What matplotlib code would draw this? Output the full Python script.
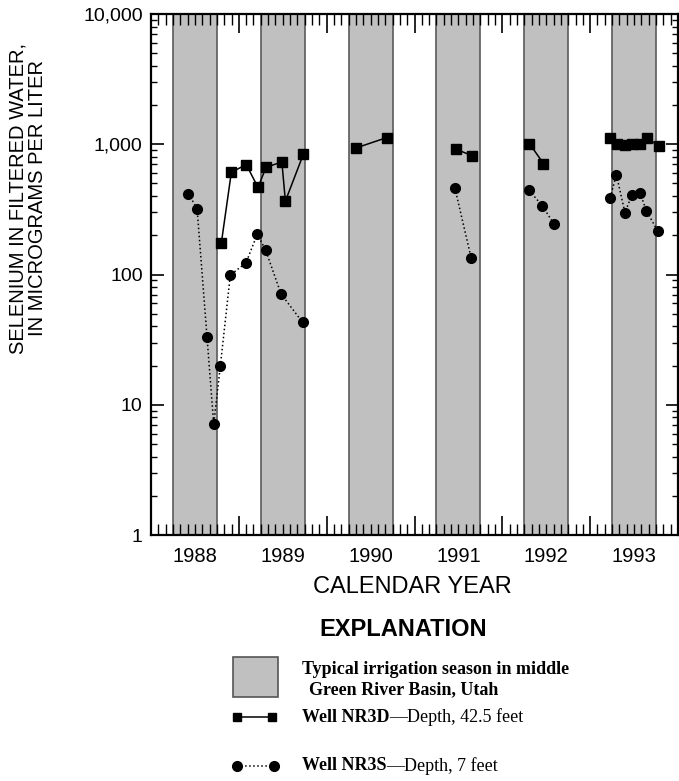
import numpy as np
import matplotlib
matplotlib.use('Agg')
import matplotlib.pyplot as plt
from matplotlib.patches import Rectangle
from matplotlib.lines import Line2D

plt.rcParams['font.family'] = ['Liberation Sans', 'DejaVu Sans']

# DATA ######################################
years = [1988, 1989, 1990, 1991, 1992, 1993]
year_labels = ['1988', '1989', '1990', '1991', '1992', '1993']

# typical irrigation season (decimal years, April 1 - October 1)
season_start = [1988.25, 1989.25, 1990.25, 1991.25, 1992.25, 1993.25]
season_end = [1988.75, 1989.75, 1990.75, 1991.75, 1992.75, 1993.75]

# Well NR3D, one list per connected sampling run
nr3d_time = [[1988.80, 1988.915, 1989.085, 1989.218, 1989.31, 1989.49, 1989.53, 1989.736],
             [1990.335, 1990.684],
             [1991.472, 1991.653],
             [1992.309, 1992.468],
             [1993.229, 1993.305, 1993.40, 1993.475, 1993.5625, 1993.645, 1993.778]]
nr3d_se = [[173, 610, 698, 466, 666, 731, 366, 843],
           [937, 1125],
           [916, 819],
           [1012, 711],
           [1125, 1000, 982, 1012, 1012, 1125, 970]]

# Well NR3S
nr3s_time = [[1988.426, 1988.525, 1988.638, 1988.714, 1988.79, 1988.903, 1989.082,
              1989.21, 1989.305, 1989.48, 1989.725],
             [1991.46, 1991.646],
             [1992.305, 1992.457, 1992.585],
             [1993.229, 1993.298, 1993.396, 1993.475, 1993.57, 1993.639, 1993.77]]
nr3s_se = [[418, 319, 33, 7.1, 20, 99, 123, 204, 154, 71, 43],
           [462, 133],
           [442, 336, 245],
           [390, 585, 299, 408, 419, 310, 215]]

W, H = 679, 781
fig = plt.figure(figsize=(W/100, H/100), dpi=100)
ax = fig.add_axes([151/W, 1-535/H, (678-151)/W, (535-14)/H])

# irrigation seasons
for s, e in zip(season_start, season_end):
    ax.axvspan(s, e, facecolor='#c0c0c0', edgecolor='#5a5a5a', lw=1.2, zorder=0)

for t, v in zip(nr3d_time, nr3d_se):
    ax.plot(t, v, '-', color='k', lw=1.1, marker='s', ms=6.5, mfc='k', mec='k', zorder=3)
for t, v in zip(nr3s_time, nr3s_se):
    ax.plot(t, v, ':', color='k', lw=1.1, marker='o', ms=7, mfc='k', mec='k', zorder=3)

ax.set_yscale('log')
ax.set_xlim(years[0], years[-1] + 1)
ax.set_ylim(1, 10000)

# x ticks: long at year boundaries, short at months, labels at mid-year
ax.set_xticks(years + [years[-1] + 1], labels=[''] * (len(years) + 1))
month_pos = []
month_lab = []
for i in range(1, 12 * len(years)):
    if i % 12 == 0:
        continue
    month_pos.append(years[0] + i / 12)
    month_lab.append(year_labels[i // 12] if i % 12 == 6 else '')
ax.set_xticks(month_pos, labels=month_lab, minor=True)
ax.tick_params(axis='x', which='major', direction='in', length=14, width=1.2, top=True)
ax.tick_params(axis='x', which='minor', direction='in', length=8, width=1.0, top=True,
               labelsize=14.5, pad=9)

ax.set_yticks([1, 10, 100, 1000, 10000], labels=['1', '10', '100', '1,000', '10,000'])
ax.set_yticks([m * 10**d for d in range(4) for m in range(2, 10)], minor=True)
ax.yaxis.set_minor_formatter(matplotlib.ticker.NullFormatter())
ax.tick_params(axis='y', which='major', direction='in', length=9, width=1.2, right=True,
               labelsize=14, pad=6)
ax.tick_params(axis='y', which='minor', direction='in', length=4.5, width=1.0, right=True)
for sp in ax.spines.values():
    sp.set_linewidth(1.6)

fig.text(412/W, 1-587/H, 'CALENDAR YEAR', fontsize=17, ha='center', va='center')
fig.text(28/W, 1-198/H, 'SELENIUM IN FILTERED WATER,\nIN MICROGRAMS PER LITER',
         fontsize=14.5, rotation=90, ha='center', va='center', multialignment='center',
         linespacing=1.05)

# EXPLANATION ###############################
lax = fig.add_axes([0, 0, 1, 1])
lax.set_xlim(0, W)
lax.set_ylim(H, 0)
lax.axis('off')

lax.text(403, 630, 'EXPLANATION', fontsize=17, fontweight='bold', ha='center', va='center')
lax.add_patch(Rectangle((233, 657), 45, 40, facecolor='#c0c0c0', edgecolor='#555555', lw=1.2))
serif = ['Liberation Serif', 'DejaVu Serif']
lax.text(302, 669, 'Typical irrigation season in middle', family=serif, fontsize=13,
         fontweight='bold', va='center')
lax.text(309, 690, 'Green River Basin, Utah', family=serif, fontsize=13,
         fontweight='bold', va='center')

lax.add_line(Line2D([237, 272], [717, 717], color='k', lw=1.1, marker='s', ms=6))
lax.add_line(Line2D([237, 274], [766, 766], color='k', lw=1.1, ls=':', marker='o', ms=7))

renderer = fig.canvas.get_renderer()
for y, name, rest in [(717, 'Well NR3D', '\u2014Depth, 42.5 feet'),
                      (766, 'Well NR3S', '\u2014Depth, 7 feet')]:
    t1 = lax.text(302, y, name, family=serif, fontsize=13, fontweight='bold', va='center')
    x1 = t1.get_window_extent(renderer).x1
    lax.text(x1, y, rest, family=serif, fontsize=13, va='center')

fig.savefig('out.png', dpi=100)
